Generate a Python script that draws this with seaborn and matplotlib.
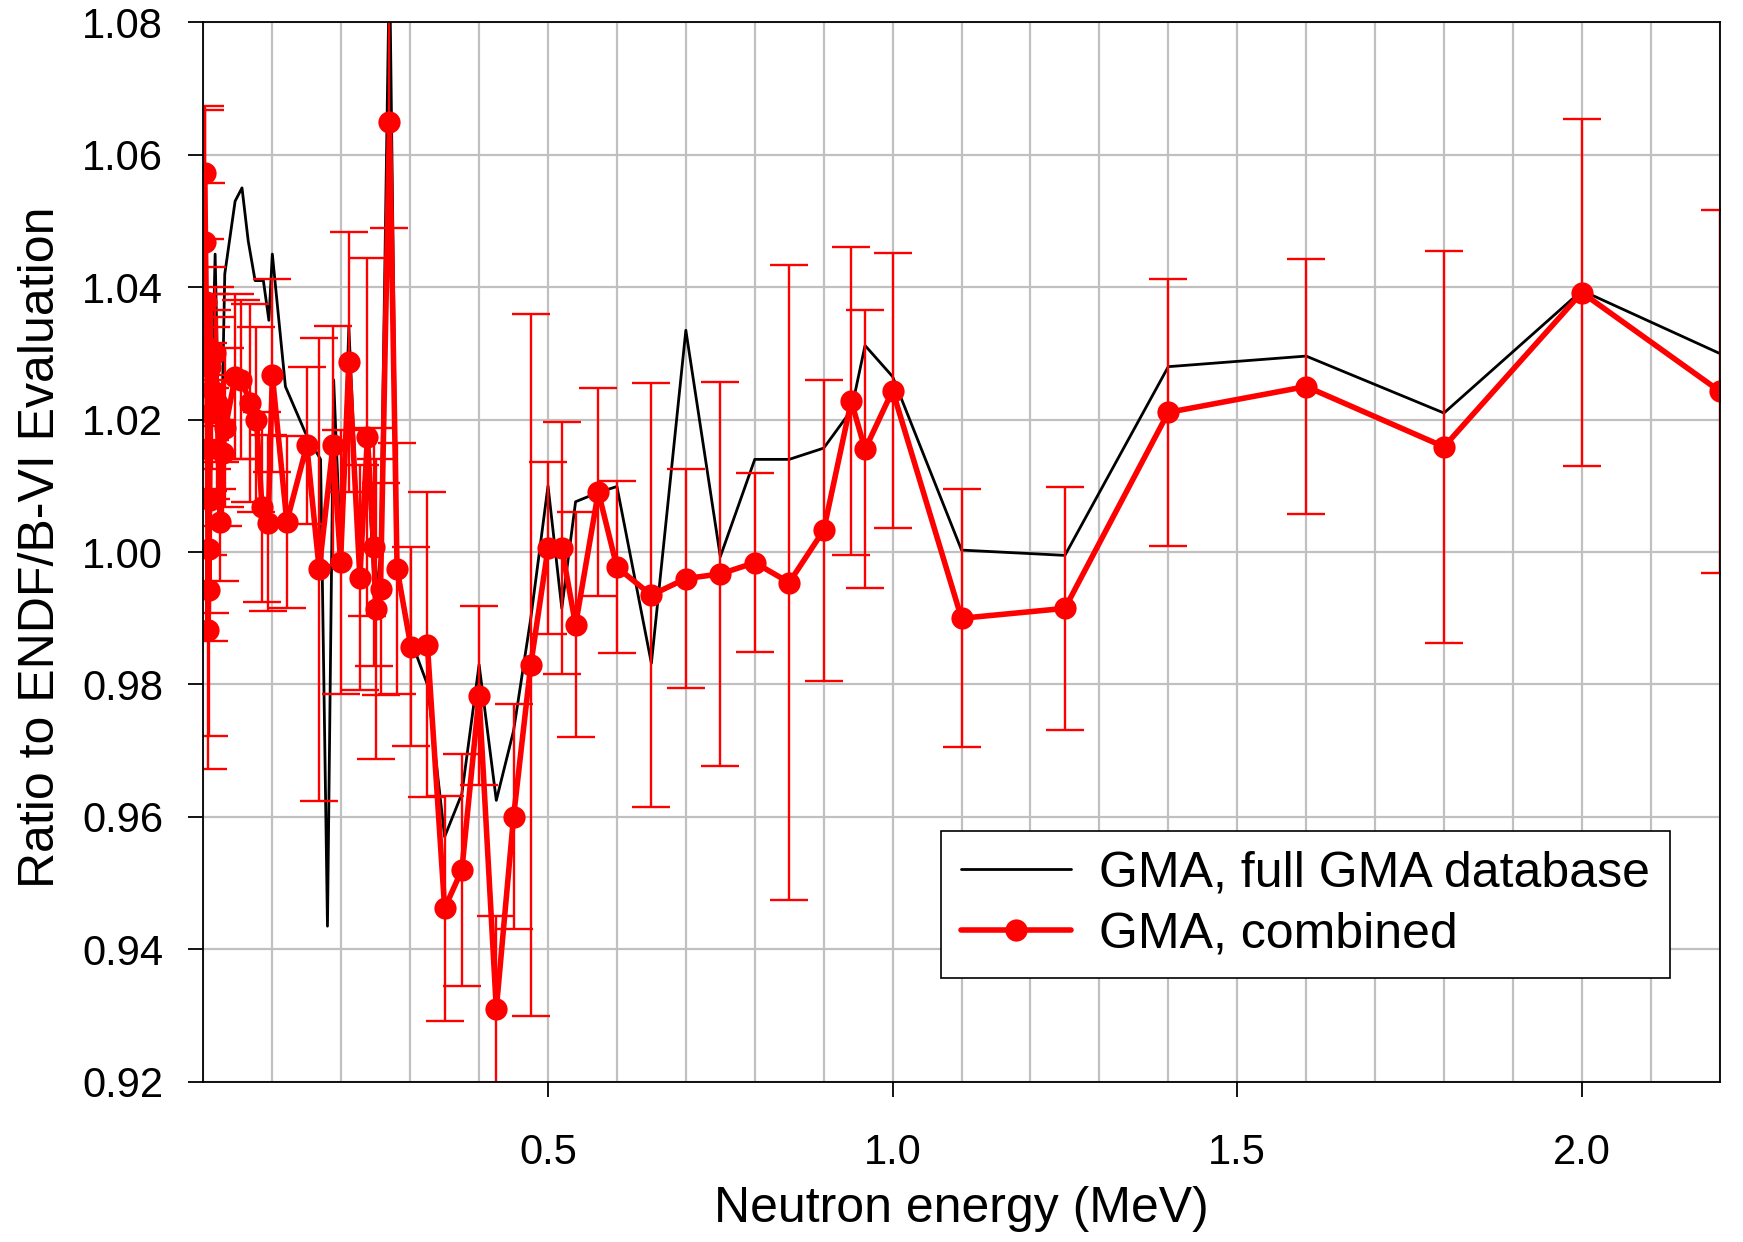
import matplotlib
matplotlib.use("Agg")
import matplotlib.pyplot as plt
from matplotlib.ticker import MultipleLocator, FixedLocator, FormatStrFormatter
import numpy as np
import pandas as pd
import seaborn as sns

# GMA, full GMA database (black line)
full_energy = [0.001, 0.004, 0.008, 0.012, 0.017, 0.020, 0.024, 0.031, 0.046, 0.056,
               0.065, 0.075, 0.087, 0.095, 0.100, 0.119, 0.148, 0.170, 0.180, 0.189,
               0.200, 0.211, 0.227, 0.238, 0.249, 0.257, 0.270, 0.281, 0.300, 0.325,
               0.350, 0.375, 0.400, 0.425, 0.450, 0.475, 0.500, 0.520, 0.540, 0.573,
               0.600, 0.650, 0.700, 0.750, 0.800, 0.850, 0.900, 0.940, 0.960, 1.000,
               1.100, 1.250, 1.400, 1.600, 1.800, 2.000, 2.200]
full_ratio = [1.040, 1.035, 1.028, 1.022, 1.045, 1.030, 1.004, 1.042, 1.053, 1.055,
              1.047, 1.041, 1.041, 1.035, 1.045, 1.025, 1.018, 1.014, 0.9435, 1.026,
              0.998, 1.034, 0.997, 1.015, 0.992, 0.9995, 1.090, 0.997, 0.987, 0.980,
              0.957, 0.9635, 0.983, 0.9625, 0.973, 0.990, 1.010, 0.9915, 1.0076, 1.009,
              1.0099, 0.9832, 1.0335, 0.9993, 1.014, 1.014, 1.0157, 1.0214, 1.0312, 1.0265,
              1.0003, 0.9995, 1.028, 1.0296, 1.021, 1.0395, 1.030]

# GMA, combined (red line with markers and uncertainties)
comb_energy = [0.002, 0.003, 0.004, 0.005, 0.006, 0.007, 0.0075, 0.008, 0.009, 0.010,
               0.011, 0.013, 0.017, 0.020, 0.024, 0.028, 0.032, 0.046, 0.055, 0.068,
               0.077, 0.085, 0.094, 0.100, 0.121, 0.150, 0.168, 0.188, 0.199, 0.211,
               0.227, 0.238, 0.247, 0.250, 0.257, 0.270, 0.281, 0.301, 0.325, 0.350,
               0.375, 0.400, 0.425, 0.450, 0.475, 0.500, 0.520, 0.540, 0.573, 0.600,
               0.650, 0.700, 0.750, 0.800, 0.850, 0.900, 0.940, 0.960, 1.000, 1.100,
               1.250, 1.400, 1.600, 1.800, 2.000, 2.200]
comb_ratio = [1.0573, 1.0468, 1.0377, 1.031, 1.0155, 0.9882, 1.0005, 0.9942, 1.0078, 1.028,
              1.021, 1.0245, 1.030, 1.0225, 1.0046, 1.015, 1.0188, 1.0265, 1.026, 1.0225,
              1.020, 1.0068, 1.0044, 1.0267, 1.0046, 1.0161, 0.9974, 1.0161, 0.9985, 1.0287,
              0.9961, 1.0174, 1.0008, 0.9914, 0.9944, 1.0649, 0.9975, 0.9857, 0.986, 0.9462,
              0.952, 0.9783, 0.931, 0.960, 0.983, 1.0006, 1.0006, 0.989, 1.0091, 0.9977,
              0.9935, 0.996, 0.9967, 0.9984, 0.9954, 1.0033, 1.0228, 1.0155, 1.0244, 0.990,
              0.9915, 1.0211, 1.025, 1.0159, 1.0392, 1.0243]
comb_err = [0.010, 0.020, 0.018, 0.012, 0.016, 0.021, 0.014, 0.022, 0.017, 0.011,
            0.013, 0.012, 0.010, 0.013, 0.009, 0.011, 0.012, 0.0125, 0.012, 0.015,
            0.014, 0.0143, 0.0133, 0.0146, 0.013, 0.0118, 0.035, 0.018, 0.020, 0.0197,
            0.017, 0.027, 0.018, 0.0227, 0.016, 0.016, 0.019, 0.015, 0.023, 0.017,
            0.0175, 0.0135, 0.014, 0.017, 0.053, 0.013, 0.019, 0.017, 0.0157, 0.013,
            0.032, 0.0165, 0.029, 0.0135, 0.048, 0.0227, 0.0232, 0.021, 0.0208, 0.0195,
            0.0183, 0.0202, 0.0193, 0.0296, 0.0262, 0.0274]

x_ticks = [0.5, 1.0, 1.5, 2.0]

full_df = pd.DataFrame({"energy": full_energy, "ratio": full_ratio})
comb_df = pd.DataFrame({"energy": comb_energy, "ratio": comb_ratio, "err": comb_err})

sns.set_style("white")
plt.rcParams["font.family"] = ["Liberation Sans", "DejaVu Sans"]
plt.rcParams["text.color"] = "black"
plt.rcParams["axes.labelcolor"] = "black"
plt.rcParams["xtick.color"] = "black"
plt.rcParams["ytick.color"] = "black"

fig = plt.figure(figsize=(17.43, 12.42), dpi=100)
ax = fig.add_axes([0.1167, 0.129, 0.8699, 0.853])

ax.set_xlim(0, 2.2)
ax.set_ylim(0.92, 1.08)
ax.xaxis.set_major_locator(FixedLocator(x_ticks))
ax.xaxis.set_minor_locator(MultipleLocator(0.1))
ax.xaxis.set_major_formatter(FormatStrFormatter("%.1f"))
ax.yaxis.set_major_locator(MultipleLocator(0.02))
ax.yaxis.set_major_formatter(FormatStrFormatter("%.2f"))
ax.grid(True, which="both", axis="x", color="#c0c0c0", lw=1.6, zorder=0)
ax.grid(True, which="major", axis="y", color="#c0c0c0", lw=1.6, zorder=0)
ax.set_axisbelow(True)

sns.lineplot(data=full_df, x="energy", y="ratio", sort=False, estimator=None,
             color="black", lw=2.0, ax=ax, label="GMA, full GMA database", zorder=2)

ax.errorbar(comb_df["energy"], comb_df["ratio"], yerr=comb_df["err"], fmt="none",
            ecolor="#ff0000", elinewidth=1.7, capsize=14, capthick=1.7, zorder=3)

sns.lineplot(data=comb_df, x="energy", y="ratio", sort=False, estimator=None,
             color="#ff0000", lw=4.0, marker="o", markersize=16, markeredgewidth=0,
             ax=ax, label="GMA, combined", zorder=4)

for side in ["left", "right", "top", "bottom"]:
    ax.spines[side].set_color("black")
    ax.spines[side].set_linewidth(1.3)
    ax.spines[side].set_zorder(5)

ax.tick_params(axis="both", which="major", direction="out", length=11, width=1.3,
               labelsize=30, color="black", labelcolor="black", left=True, bottom=True)
ax.tick_params(axis="y", pad=18)
ax.tick_params(axis="x", pad=26)
ax.tick_params(axis="both", which="minor", length=0)

ax.set_xlabel("Neutron energy (MeV)", fontsize=36, color="black")
ax.set_ylabel("Ratio to ENDF/B-VI Evaluation", fontsize=36, color="black")
ax.xaxis.set_label_coords(0.5, -0.098)
ax.yaxis.set_label_coords(-0.092, 0.505)

leg = ax.legend(loc="lower right", bbox_to_anchor=(0.967, 0.098), borderaxespad=0,
                fontsize=36, frameon=True, fancybox=False, framealpha=1,
                handlelength=2.2, borderpad=0.4, labelspacing=0.3, handletextpad=0.55)
leg.get_frame().set_edgecolor("black")
leg.get_frame().set_linewidth(1.2)
for t in leg.get_texts():
    t.set_color("black")

fig.savefig("out.png", dpi=100)
plt.close(fig)
